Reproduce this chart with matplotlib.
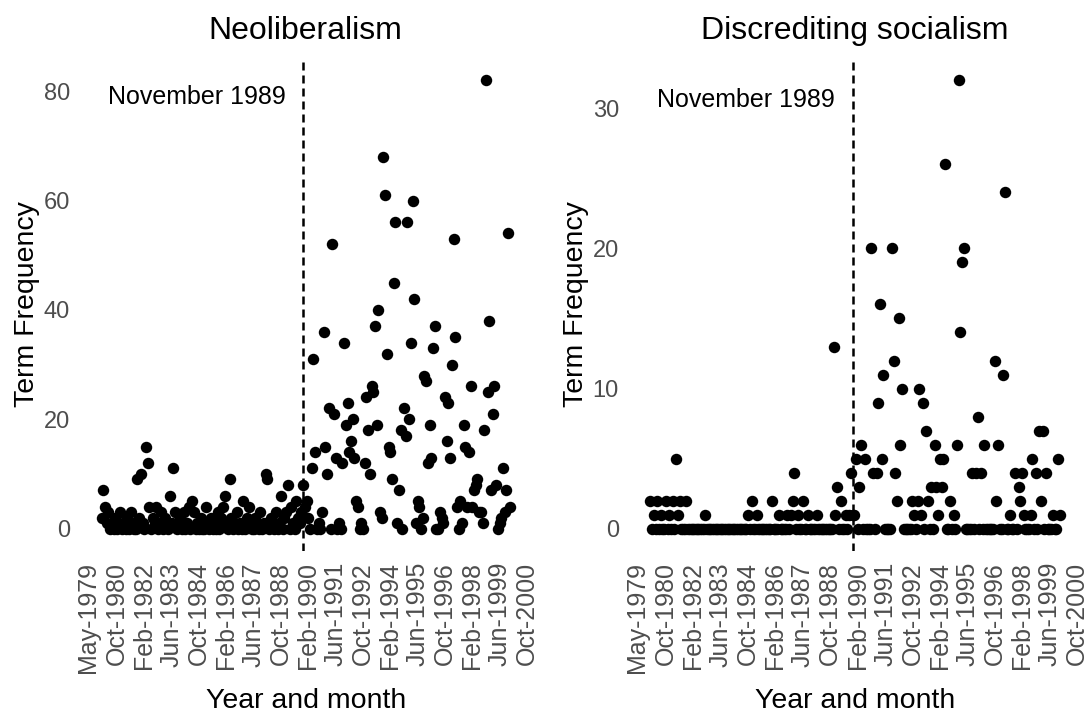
import matplotlib.pyplot as plt
import numpy as np
import pandas as pd

plt.rcParams['font.family'] = ['Liberation Sans', 'DejaVu Sans']

# monthly term counts, Jan 1980 - Dec 1999 (one row per year)
start_month = '1980-01'
neoliberalism = [
    2, 7, 4, 1, 3, 0, 1, 0, 2, 0, 1, 3,
    0, 1, 0, 2, 0, 3, 1, 0, 0, 9, 2, 10,
    1, 0, 15, 12, 4, 0, 2, 1, 4, 0, 1, 3,
    0, 2, 1, 0, 6, 1, 11, 3, 0, 1, 2, 0,
    3, 0, 1, 4, 0, 5, 3, 0, 1, 0, 2, 0,
    0, 4, 1, 0, 2, 0, 1, 0, 3, 0, 2, 4,
    6, 1, 0, 9, 2, 0, 1, 3, 0, 1, 0, 5,
    0, 2, 4, 1, 0, 0, 2, 1, 0, 3, 0, 1,
    10, 9, 0, 2, 1, 0, 3, 0, 1, 6, 0, 2,
    3, 8, 0, 4, 1, 0, 5, 2, 1, 3, 8, 4,
    5, 2, 0, 11, 31, 14, 0, 1, 0, 3, 36, 15,
    10, 22, 0, 52, 21, 13, 0, 1, 0, 12, 34, 19,
    23, 14, 16, 20, 13, 5, 4, 0, 1, 0, 12, 24,
    18, 10, 26, 25, 37, 19, 40, 3, 2, 68, 61, 32,
    15, 14, 9, 45, 56, 1, 7, 18, 0, 22, 17, 56,
    20, 34, 60, 42, 1, 5, 4, 0, 2, 28, 27, 12,
    19, 13, 33, 37, 0, 0, 3, 2, 1, 24, 16, 23,
    13, 30, 53, 35, 4, 0, 5, 1, 19, 15, 4, 14,
    26, 4, 7, 8, 9, 3, 3, 1, 18, 82, 25, 38,
    7, 21, 26, 8, 0, 1, 2, 11, 3, 7, 54, 4,
]
socialism = [
    2, 0, 1, 0, 2, 0, 1, 0, 0, 2, 0, 1,
    0, 2, 0, 5, 1, 2, 0, 0, 0, 2, 0, 0,
    0, 0, 0, 0, 0, 0, 0, 0, 1, 0, 0, 0,
    0, 0, 0, 0, 0, 0, 0, 0, 0, 0, 0, 0,
    0, 0, 0, 0, 0, 0, 0, 0, 0, 1, 0, 2,
    0, 0, 1, 0, 0, 0, 0, 0, 0, 0, 0, 2,
    0, 0, 0, 1, 0, 0, 0, 0, 1, 0, 1, 2,
    4, 0, 1, 0, 0, 2, 0, 0, 1, 0, 0, 0,
    0, 1, 0, 0, 0, 0, 0, 0, 0, 0, 0, 13,
    1, 3, 0, 2, 0, 0, 1, 0, 1, 4, 1, 1,
    5, 0, 3, 6, 0, 5, 0, 0, 0, 20, 4, 0,
    4, 9, 16, 5, 11, 0, 0, 0, 0, 20, 12, 4,
    2, 15, 6, 10, 0, 0, 0, 0, 0, 2, 1, 0,
    2, 10, 1, 9, 0, 7, 2, 0, 3, 0, 6, 3,
    1, 5, 3, 5, 26, 0, 0, 2, 0, 1, 0, 6,
    32, 14, 19, 20, 0, 0, 0, 0, 4, 0, 4, 8,
    0, 4, 0, 6, 0, 0, 0, 0, 0, 12, 2, 6,
    0, 0, 11, 24, 0, 0, 1, 0, 0, 4, 0, 3,
    2, 4, 1, 0, 0, 0, 1, 5, 0, 4, 0, 7,
    2, 7, 0, 4, 0, 0, 0, 1, 0, 0, 5, 1,
]

tick_labels = ['May-1979', 'Oct-1980', 'Feb-1982', 'Jun-1983', 'Oct-1984',
               'Feb-1986', 'Jun-1987', 'Oct-1988', 'Feb-1990', 'Jun-1991',
               'Oct-1992', 'Feb-1994', 'Jun-1995', 'Oct-1996', 'Feb-1998',
               'Jun-1999', 'Oct-2000']
titles = ['Neoliberalism', 'Discrediting socialism']
event_label = 'November 1989'
event_month = 'Nov-1989'


def month_number(dates):
    # months counted from the first month of the series
    first = pd.Timestamp(start_month)
    return (dates.year - first.year) * 12 + (dates.month - first.month)


x = np.arange(len(neoliberalism))
tick_pos = month_number(pd.to_datetime(tick_labels, format='%b-%Y'))
event_x = month_number(pd.to_datetime([event_month], format='%b-%Y'))[0]

fig = plt.figure(figsize=(10.9, 7.14), dpi=100)
panels = [
    (neoliberalism, [0.0745, 0.2283, 0.412, 0.6905], (-4.1, 86.1), [0, 20, 40, 60, 80], 79),
    (socialism, [0.578, 0.2283, 0.413, 0.6905], (-1.6, 33.6), [0, 10, 20, 30], 30.6),
]

for (vals, rect, ylim, yticks, text_y), title in zip(panels, titles):
    ax = fig.add_axes(rect)
    ax.scatter(x, vals, s=68, color='black', linewidths=0, zorder=3)
    ax.axvline(event_x, color='black', lw=1.8, ls=(0, (3.2, 2.0)), zorder=2)
    ax.text(56, text_y, event_label, ha='center', va='center', fontsize=18, color='black')

    ax.set_xlim(-11.95, 250.95)
    ax.set_ylim(*ylim)
    ax.set_xticks(tick_pos)
    ax.set_xticklabels(tick_labels, rotation=90, ha='center', va='top')
    ax.set_yticks(yticks)
    ax.tick_params(length=0, labelcolor='#4d4d4d', pad=8)
    ax.tick_params(axis='x', labelsize=18)
    ax.tick_params(axis='y', labelsize=17)
    for s in ax.spines.values():
        s.set_visible(False)

    ax.set_xlabel('Year and month', fontsize=20.5, va='center')
    ax.xaxis.set_label_coords(0.5, -0.305)
    ax.set_ylabel('Term Frequency', fontsize=20.5, va='center')
    ax.yaxis.set_label_coords(-0.121, 0.5)
    ax.set_title(title, fontsize=23, pad=14)

fig.savefig('out.png', dpi=100)
